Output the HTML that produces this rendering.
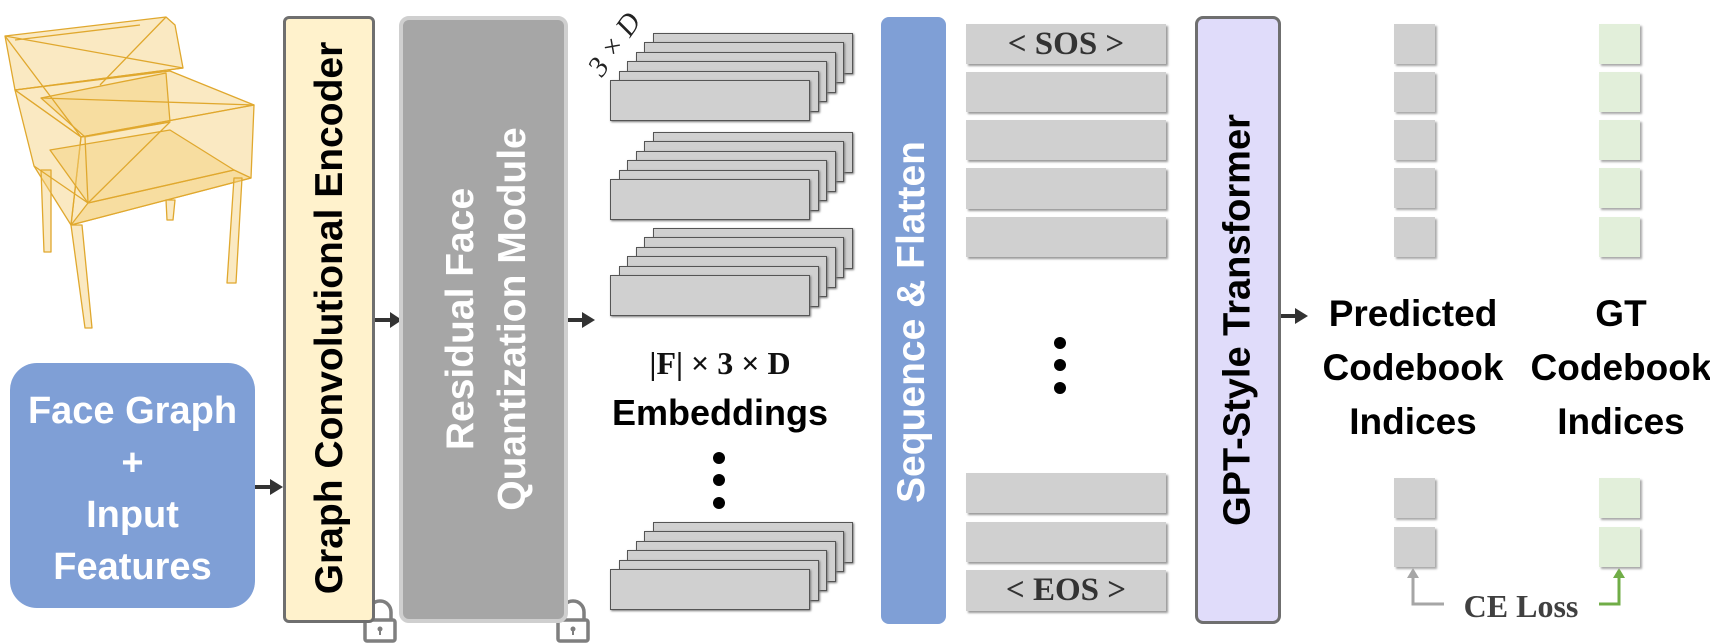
<!DOCTYPE html>
<html><head><meta charset="utf-8"><style>
*{margin:0;padding:0;box-sizing:border-box}
body{width:1710px;height:644px;background:#fff;position:relative;overflow:hidden;font-family:"Liberation Sans",Arial,sans-serif}
.abs{position:absolute}
.vt{position:absolute;transform:translate(-50%,-50%) rotate(-90deg);white-space:nowrap;font-weight:bold}
.bar{position:absolute;background:#d0d0d0;box-shadow:2px 2px 2px #9a9a9a}
.sq{position:absolute;width:41px;height:40px;box-shadow:2px 2px 2px #a8a8a8}
.g{background:#d0d0d0}.gr{background:#e2efda}
.lyr{position:absolute;width:200px;height:41px;background:#d0d0d0;border:1.5px solid #555;box-shadow:1px 1px 2px #777}
.dot{position:absolute;width:12px;height:12px;border-radius:50%;background:#000}
.ser{font-family:"Liberation Serif",serif;font-weight:bold}
</style></head><body>

<svg class="abs" style="left:0;top:0" width="1710" height="644">
<g stroke="#e0a82e" stroke-width="1.3" fill="#f3cf78" fill-opacity="0.45" stroke-linejoin="round">
<polygon points="5,36 166,17 175,25 183,68 15,90"/>
<polygon points="15,90 170,71 254,105 81,137"/>
<polygon points="41,98 166,73 170,122 85,137"/>
<polygon points="81,137 254,105 251,178 71,225"/>
<polygon points="88,203 234,170 251,178 71,225"/>
<polygon points="15,90 81,137 71,225 34,166"/>
<polygon points="41,170 51,170 51,252 44,252"/>
<polygon points="166,200 175,200 173,220 167,220"/>
<polygon points="234,178 242,178 236,283 227,283"/>
<polygon points="71,225 82,225 92,328 85,328"/>
<polygon points="50,150 170,130 234,170 88,203"/>
<line x1="5" y1="36" x2="183" y2="68"/><line x1="15" y1="40" x2="140" y2="25"/>
<line x1="41" y1="98" x2="254" y2="105"/><line x1="81" y1="137" x2="170" y2="122"/>
<line x1="85" y1="137" x2="88" y2="203"/><line x1="88" y1="203" x2="170" y2="122"/>
<line x1="15" y1="90" x2="183" y2="68"/><line x1="34" y1="166" x2="88" y2="203"/>
<line x1="5" y1="36" x2="81" y2="137"/><line x1="166" y1="17" x2="100" y2="85"/>
</g>
<g fill="#333">
<rect x="255" y="485" width="17" height="4"/><polygon points="270,479 283,487 270,495"/>
<rect x="375" y="318" width="17" height="4"/><polygon points="390,312 402,320 390,328"/>
<rect x="568" y="318" width="16" height="4"/><polygon points="582,312 595,320 582,328"/>
<rect x="1281" y="314" width="16" height="4"/><polygon points="1295,308 1308,316 1295,324"/>
</g>
<g fill="none" stroke="#7f7f7f" stroke-width="3.5">
<path d="M369,620 v-8 a11,11 0 0 1 22,0 v8"/><rect x="365" y="620" width="30" height="21" rx="2"/>
<path d="M562,620 v-8 a11,11 0 0 1 22,0 v8"/><rect x="558" y="620" width="30" height="21" rx="2"/>
</g>
<circle cx="380" cy="629" r="2.5" fill="#7f7f7f"/><rect x="379" y="629" width="2" height="6" fill="#7f7f7f"/>
<circle cx="573" cy="629" r="2.5" fill="#7f7f7f"/><rect x="572" y="629" width="2" height="6" fill="#7f7f7f"/>
<g fill="none" stroke-width="3">
<polyline points="1444,604 1413,604 1413,575" stroke="#a6a6a6"/>
<polyline points="1599,604 1619,604 1619,575" stroke="#70ad47"/>
</g>
<polygon points="1407,578 1413,568 1419,578" fill="#a6a6a6"/>
<polygon points="1613,578 1619,568 1625,578" fill="#70ad47"/>
<text x="0" y="0" transform="translate(602,78) rotate(-55)" font-family="Liberation Serif,serif" font-style="italic" font-size="29" fill="#222">3 × D</text>
</svg>

<div class="abs" style="left:10px;top:363px;width:245px;height:245px;background:#7f9fd6;border-radius:27px"></div>
<div class="abs" style="left:0px;top:385px;width:265px;text-align:center;color:#fff;font-weight:bold;font-size:38px;line-height:52px">Face Graph<br>+<br>Input<br>Features</div>

<div class="abs" style="left:283px;top:16px;width:92px;height:607px;background:#fff2cc;border:3px solid #6f6f6f;border-radius:6px"></div>
<div class="vt" style="left:330px;top:318px;font-size:39px;color:#000">Graph Convolutional Encoder</div>

<div class="abs" style="left:399px;top:16px;width:169px;height:607px;background:#a6a6a6;border:4px solid #cfcfcf;border-radius:10px"></div>
<div class="vt" style="left:461px;top:319px;font-size:39px;color:#fff">Residual Face</div>
<div class="vt" style="left:513px;top:319px;font-size:39px;color:#fff">Quantization Module</div>

<div id="stacks"></div>
<script>
var tops=[80,179,275,569],h='';
tops.forEach(function(t){for(var i=5;i>=0;i--){h+='<div class="lyr" style="left:'+(610+8.6*i)+'px;top:'+(t-9.4*i)+'px"></div>';}});
document.getElementById('stacks').innerHTML=h;
</script>

<div class="abs ser" style="left:600px;top:345px;width:240px;text-align:center;font-size:32px;color:#111">|F| × 3 × D</div>
<div class="abs" style="left:600px;top:392px;width:240px;text-align:center;font-size:36px;font-weight:bold;color:#000">Embeddings</div>
<div class="dot" style="left:713px;top:452px"></div><div class="dot" style="left:713px;top:474px"></div><div class="dot" style="left:713px;top:497px"></div>

<div class="abs" style="left:881px;top:17px;width:65px;height:607px;background:#7f9fd6;border-radius:8px"></div>
<div class="vt" style="left:912px;top:322px;font-size:39px;color:#fff">Sequence &amp; Flatten</div>

<div class="bar" style="left:966px;top:24px;width:200px;height:40px"></div>
<div class="bar" style="left:966px;top:72px;width:200px;height:40px"></div>
<div class="bar" style="left:966px;top:120px;width:200px;height:40px"></div>
<div class="bar" style="left:966px;top:168px;width:200px;height:41px"></div>
<div class="bar" style="left:966px;top:217px;width:200px;height:40px"></div>
<div class="bar" style="left:966px;top:473px;width:200px;height:40px"></div>
<div class="bar" style="left:966px;top:522px;width:200px;height:40px"></div>
<div class="bar" style="left:966px;top:570px;width:200px;height:41px"></div>
<div class="abs ser" style="left:966px;top:24px;width:200px;text-align:center;font-size:33px;line-height:40px;color:#333">&lt; SOS &gt;</div>
<div class="abs ser" style="left:966px;top:570px;width:200px;text-align:center;font-size:33px;line-height:40px;color:#333">&lt; EOS &gt;</div>
<div class="dot" style="left:1054px;top:337px"></div><div class="dot" style="left:1054px;top:359px"></div><div class="dot" style="left:1054px;top:382px"></div>

<div class="abs" style="left:1195px;top:16px;width:86px;height:608px;background:#e0dcfa;border:3px solid #6f6f6f;border-radius:8px"></div>
<div class="vt" style="left:1238px;top:320px;font-size:38px;color:#000">GPT-Style Transformer</div>

<div class="sq g" style="left:1394px;top:24px"></div><div class="sq g" style="left:1394px;top:72px"></div><div class="sq g" style="left:1394px;top:120px"></div><div class="sq g" style="left:1394px;top:168px"></div><div class="sq g" style="left:1394px;top:217px"></div>
<div class="sq g" style="left:1394px;top:478px"></div><div class="sq g" style="left:1394px;top:527px"></div>
<div class="sq gr" style="left:1599px;top:24px"></div><div class="sq gr" style="left:1599px;top:72px"></div><div class="sq gr" style="left:1599px;top:120px"></div><div class="sq gr" style="left:1599px;top:168px"></div><div class="sq gr" style="left:1599px;top:217px"></div>
<div class="sq gr" style="left:1599px;top:478px"></div><div class="sq gr" style="left:1599px;top:527px"></div>

<div class="abs" style="left:1313px;top:287px;width:200px;text-align:center;font-size:37px;font-weight:bold;line-height:54px;color:#000">Predicted<br>Codebook<br>Indices</div>
<div class="abs" style="left:1521px;top:287px;width:200px;text-align:center;font-size:37px;font-weight:bold;line-height:54px;color:#000">GT<br>Codebook<br>Indices</div>

<div class="abs ser" style="left:1450px;top:586px;width:142px;text-align:center;font-size:32px;line-height:40px;color:#404040">CE Loss</div>
</body></html>
